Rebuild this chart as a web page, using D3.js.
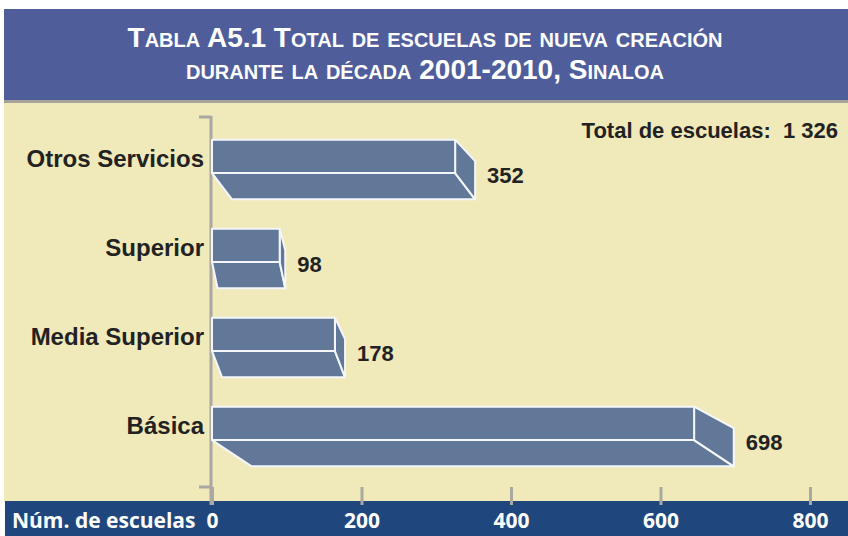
<!DOCTYPE html>
<html>
<head>
<meta charset="utf-8">
<script src="https://cdn.jsdelivr.net/npm/d3@7"></script>
<style>
  body { margin: 0; background: #fff; }
  svg { display: block; }
</style>
</head>
<body>
<svg id="chart" width="848" height="536"></svg>
<script>
// datos
var categorias = ["Otros Servicios", "Superior", "Media Superior", "Básica"];
var escuelas = [352, 98, 178, 698];
var ticksX = [0, 200, 400, 600, 800];
var tituloLineas = ["Tabla A5.1 Total de escuelas de nueva creación",
                    "durante la década 2001-2010, Sinaloa"];
var totalTexto = "Total de escuelas:  1 326";
var ejeTitulo = "Núm. de escuelas";

var svg = d3.select("#chart"),
    width = 848,
    height = 536;

// fondos
svg.append("rect")
  .attr("x", 4).attr("y", 100)
  .attr("width", width - 4).attr("height", 402)
  .attr("fill", "#f0e9b9");

svg.append("rect")
  .attr("x", 4).attr("y", 9)
  .attr("width", width - 4).attr("height", 91)
  .attr("fill", "#4f5e9b");
svg.append("rect")
  .attr("x", 4).attr("y", 100)
  .attr("width", width - 4).attr("height", 3)
  .attr("fill", "#a7a39a");

svg.append("rect")
  .attr("x", 5).attr("y", 501)
  .attr("width", width - 5).attr("height", 35)
  .attr("fill", "#1f477d");

// titulo
svg.selectAll(".titulo").data(tituloLineas)
  .enter().append("text")
  .attr("class", "titulo")
  .attr("x", width / 2 + 1)
  .attr("y", function(d, i) { return 47 + i * 32; })
  .attr("text-anchor", "middle")
  .style("font-family", "'Liberation Sans Narrow', 'Liberation Sans', sans-serif")
  .style("font-weight", "bold")
  .style("font-size", "28px")
  .style("font-variant", "small-caps")
  .attr("fill", "#ffffff")
  .text(function(d) { return d; });

// escalas
var x = d3.scaleLinear()
  .domain([0, 800])
  .range([212, 810]);

var y = d3.scaleBand()
  .domain(categorias)
  .range([125, 481])
  .paddingInner(0.33)
  .paddingOuter(0.165);

var bw = y.bandwidth();
var x0 = x(0);

// eje vertical
var g = svg.append("g");
g.append("line")
  .attr("x1", x0 - 1).attr("x2", x0 - 1)
  .attr("y1", 116).attr("y2", 505)
  .attr("stroke", "#a9a8a2").attr("stroke-width", 3);
g.append("line")
  .attr("x1", x0 - 13).attr("x2", x0 - 1)
  .attr("y1", 117).attr("y2", 117)
  .attr("stroke", "#a9a8a2").attr("stroke-width", 3);
g.append("line")
  .attr("x1", x0 - 13).attr("x2", x0 - 1)
  .attr("y1", 487).attr("y2", 487)
  .attr("stroke", "#a9a8a2").attr("stroke-width", 3);

// eje x
var ejeX = svg.append("g")
  .attr("transform", "translate(0,487)")
  .call(d3.axisBottom(x).tickValues(ticksX).tickSize(18).tickSizeOuter(0).tickPadding(0));
ejeX.select(".domain").remove();
ejeX.selectAll(".tick line")
  .attr("stroke", "#a9a8a2")
  .attr("stroke-width", 3);
ejeX.selectAll(".tick text")
  .attr("y", 41)
  .attr("dy", null)
  .attr("fill", "#ffffff")
  .style("font-family", "'Open Sans', sans-serif")
  .style("font-weight", "bold")
  .style("font-size", "21px");

svg.append("text")
  .attr("x", 12)
  .attr("y", 528)
  .attr("fill", "#ffffff")
  .style("font-family", "'Open Sans', sans-serif")
  .style("font-weight", "bold")
  .style("font-size", "21px")
  .text(ejeTitulo);

// barras 3d
var datos = categorias.map(function(c, i) { return {cat: c, valor: escuelas[i]}; });

function geom(d) {
  var xe = x(d.valor),
      dep = (xe - x0) * 0.076,
      xf = xe - dep,
      y0 = y(d.cat),
      ym = y0 + bw * 0.56,
      yb = y0 + bw,
      ys = y0 + bw * 0.36;
  return {xe: xe, dep: dep, xf: xf, y0: y0, ym: ym, yb: yb, ys: ys};
}

var barras = svg.selectAll(".barra").data(datos)
  .enter().append("g")
  .attr("class", "barra");

barras.append("path")
  .attr("d", function(d) {
    var b = geom(d);
    return "M" + x0 + "," + b.ym + "L" + b.xf + "," + b.ym + "L" + b.xe + "," + b.yb +
           "L" + (x0 + b.dep) + "," + b.yb + "Z";
  });
barras.append("path")
  .attr("d", function(d) {
    var b = geom(d);
    return "M" + b.xf + "," + b.y0 + "L" + b.xe + "," + b.ys + "L" + b.xe + "," + b.yb +
           "L" + b.xf + "," + b.ym + "Z";
  });
barras.append("path")
  .attr("d", function(d) {
    var b = geom(d);
    return "M" + x0 + "," + b.y0 + "L" + b.xf + "," + b.y0 + "L" + b.xf + "," + b.ym +
           "L" + x0 + "," + b.ym + "Z";
  });
barras.selectAll("path")
  .attr("fill", "#617899")
  .attr("stroke", "#f4f6fa")
  .attr("stroke-width", 2)
  .attr("stroke-linejoin", "round");

// etiquetas categorias
barras.append("text")
  .attr("x", 204)
  .attr("y", function(d) { var b = geom(d); return (b.y0 + b.ym) / 2 + 2; })
  .attr("text-anchor", "end")
  .attr("dominant-baseline", "central")
  .attr("fill", "#222222")
  .style("font-family", "'Liberation Sans', Arial, sans-serif")
  .style("font-weight", "bold")
  .style("font-size", "24px")
  .text(function(d) { return d.cat; });

// valores
barras.append("text")
  .attr("x", function(d) { return geom(d).xe + 12; })
  .attr("y", function(d) { return geom(d).ym + 2; })
  .attr("dominant-baseline", "central")
  .attr("fill", "#222222")
  .style("font-family", "'Liberation Sans', Arial, sans-serif")
  .style("font-weight", "bold")
  .style("font-size", "22px")
  .text(function(d) { return d.valor; });

// total
svg.append("text")
  .attr("x", 838)
  .attr("y", 130)
  .attr("text-anchor", "end")
  .attr("dominant-baseline", "central")
  .attr("fill", "#222222")
  .style("font-family", "'Liberation Sans', Arial, sans-serif")
  .style("font-weight", "bold")
  .style("font-size", "22px")
  .style("white-space", "pre")
  .text(totalTexto);
</script>
</body>
</html>
